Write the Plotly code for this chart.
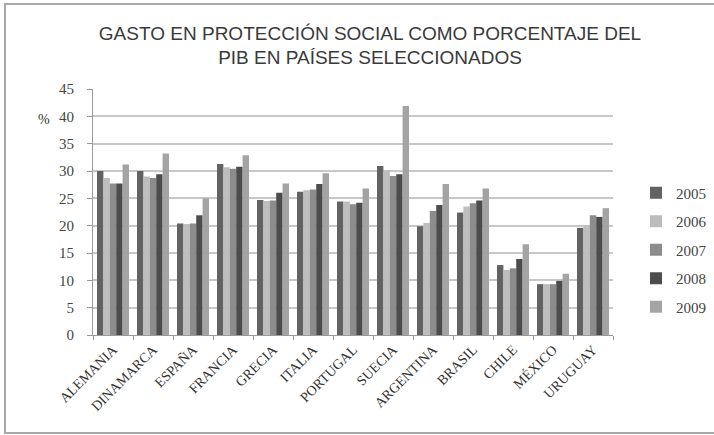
import plotly.graph_objects as go

paises = ["ALEMANIA", "DINAMARCA", "ESPAÑA", "FRANCIA", "GRECIA", "ITALIA", "PORTUGAL",
          "SUECIA", "ARGENTINA", "BRASIL", "CHILE", "MÉXICO", "URUGUAY"]
anios = ["2005", "2006", "2007", "2008", "2009"]

v2005 = [30.0, 30.0, 20.4, 31.3, 24.7, 26.2, 24.4, 30.9, 19.9, 22.4, 12.8, 9.3, 19.6]
v2006 = [28.7, 29.0, 20.3, 30.7, 24.5, 26.5, 24.4, 30.1, 20.5, 23.5, 11.9, 9.3, 20.1]
v2007 = [27.7, 28.7, 20.4, 30.4, 24.6, 26.6, 23.9, 29.1, 22.7, 24.1, 12.2, 9.3, 21.9]
v2008 = [27.7, 29.4, 21.9, 30.8, 26.0, 27.6, 24.2, 29.4, 23.8, 24.6, 13.9, 9.9, 21.6]
v2009 = [31.2, 33.2, 25.0, 32.9, 27.7, 29.6, 26.8, 41.9, 27.6, 26.8, 16.6, 11.2, 23.2]

series = [v2005, v2006, v2007, v2008, v2009]
colores = ["#626262", "#bdbdbd", "#8c8c8c", "#4c4c4c", "#a4a4a4"]

fig = go.Figure()
for anio, vals, col in zip(anios, series, colores):
    fig.add_trace(go.Bar(x=paises, y=vals, name=anio, legendgroup=anio,
                         marker=dict(color=col, line=dict(width=0))))

L, R, T, B = 93, 101, 89, 100
W, H = 714, 435
pw, ph = W - L - R, H - T - B

def px2paper(x, y):
    return (x - L) / pw, (H - B - y) / ph

x0, y0 = px2paper(5, 4)
x1, y1 = px2paper(718, 433)

fig.update_layout(
    width=W, height=H,
    margin=dict(l=L, r=R, t=T, b=B),
    paper_bgcolor="white", plot_bgcolor="white",
    barmode="group", bargap=0.2, bargroupgap=0.0,
    title=dict(text="GASTO EN PROTECCIÓN SOCIAL COMO PORCENTAJE DEL<br>PIB EN PAÍSES SELECCIONADOS",
               x=(370 / W), xanchor="center", y=(H - 39.5) / H, yanchor="middle",
               font=dict(family="Liberation Sans, Arial", size=19, color="#3a3a3a")),
    font=dict(family="Liberation Serif, Times New Roman", color="#444"),
    legend=dict(xref="container", yref="container", x=636 / W, xanchor="left",
                y=(H - 250) / H, yanchor="middle",
                font=dict(family="Liberation Serif", size=15, color="#444"),
                tracegroupgap=6, itemwidth=30, bgcolor="rgba(0,0,0,0)"),
    xaxis=dict(showline=True, linecolor="#9a9a9a", linewidth=1,
               ticks="outside", tickson="boundaries", ticklen=4, tickcolor="#9a9a9a",
               tickangle=-45, tickfont=dict(family="Liberation Serif", size=14, color="#333"),
               showgrid=False),
    yaxis=dict(range=[0, 45], dtick=5, showline=True, linecolor="#9a9a9a", linewidth=1,
               ticks="outside", ticklen=5, tickcolor="#9a9a9a", ticklabelstandoff=10,
               showgrid=True, gridcolor="#c8c8c8", gridwidth=2,
               tickfont=dict(family="Liberation Serif", size=15, color="#444"),
               zeroline=False),
    shapes=[dict(type="rect", xref="paper", yref="paper", x0=x0, y0=y0, x1=x1, y1=y1,
                 line=dict(color="#a8a8a8", width=2), layer="below")],
    annotations=[dict(text="%", xref="paper", yref="paper", x=px2paper(36, 110)[0],
                      y=px2paper(36, 110)[1], showarrow=False,
                      font=dict(family="Liberation Serif", size=14, color="#333"))],
)

fig.write_html("out.html", config={"displayModeBar": False},
               post_script="document.body.style.margin='0';document.body.style.overflow='hidden';")
